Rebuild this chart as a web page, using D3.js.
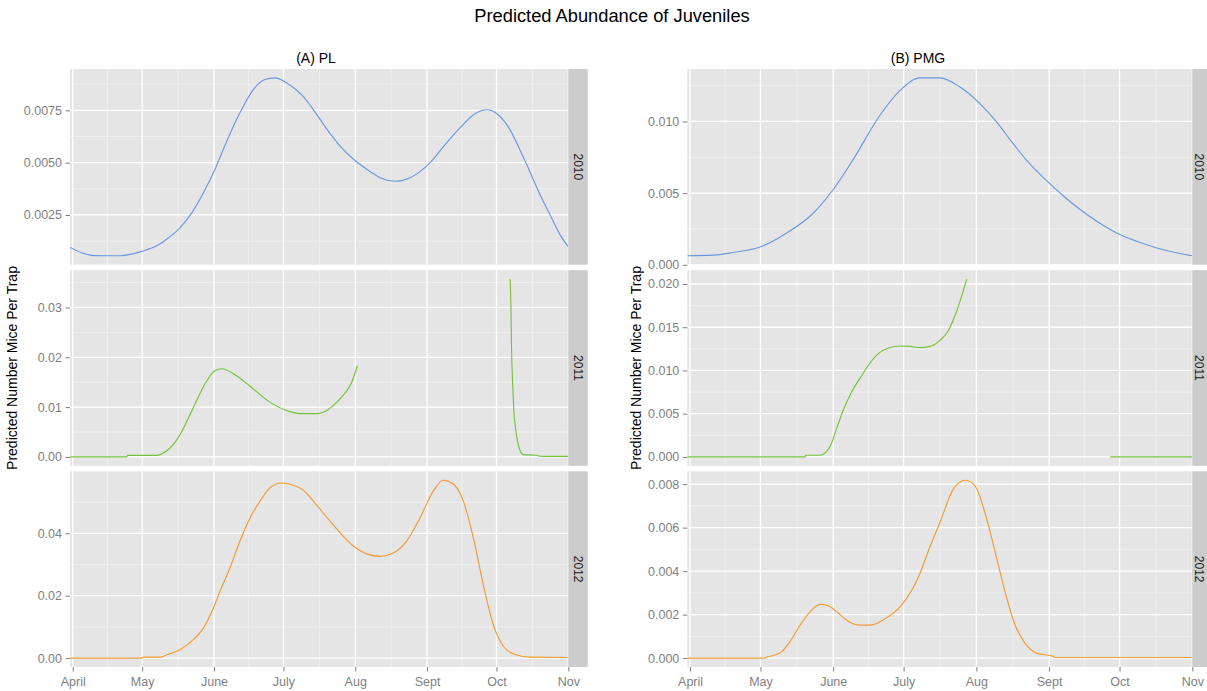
<!DOCTYPE html>
<html>
<head>
<meta charset="utf-8">
<script src="https://cdn.jsdelivr.net/npm/d3@7"></script>
<style>
  body { margin: 0; background: #fff; }
  text { font-family: "Liberation Sans", Arial, Helvetica, sans-serif; }
</style>
</head>
<body>
<svg id="chart" width="1207" height="691"></svg>
<script>
// ---- Data -------------------------------------------------------------
// Month breaks on the season axis
const monthLabels = ["April", "May", "June", "July", "Aug", "Sept", "Oct", "Nov"];
const monthStarts = ["2011-04-01", "2011-05-01", "2011-06-01", "2011-07-01",
                     "2011-08-01", "2011-09-01", "2011-10-01", "2011-11-01"];
const years = ["2010", "2011", "2012"];
const speciesTitles = ["(A) PL", "(B) PMG"];
const yearColors = ["#6a98e0", "#74c33c", "#f29c33"];

// Curves: days after 1 April and predicted mice per trap
const pl2010Days   = [-1.15, 5.3, 8.9, 20.4, 29.8, 36.3, 41.3, 46.3, 51.4, 56.4, 61.4, 66.5, 72.2, 78, 83, 87.3, 92.4, 99.6, 106, 111.1, 115.4, 121.9, 128.4, 132.7, 139.2, 145.7, 150, 154.3, 160.8, 167.3, 173.7, 178.9, 183.2, 188.8, 193.1, 197.4, 201.8, 206.1, 210.4, 214];
const pl2010Values = [0.00095, 0.00064, 0.00056, 0.00055, 0.00076, 0.00103, 0.0014, 0.00188, 0.0026, 0.00355, 0.00467, 0.00602, 0.00738, 0.00849, 0.00897, 0.00905, 0.00881, 0.00815, 0.0072, 0.0064, 0.0058, 0.0051, 0.00458, 0.00428, 0.00411, 0.00428, 0.00457, 0.0050, 0.00586, 0.00667, 0.00734, 0.00753, 0.00734, 0.00658, 0.00562, 0.00457, 0.00347, 0.00251, 0.00156, 0.00098];

const pl2011DaysA   = [-1.15, 23.3, 23.7, 36, 40.6, 43.4, 47.1, 50.6, 54.2, 57.9, 61.4, 64.3, 70.1, 75.8, 84.5, 93.1, 98.1, 106, 112.5, 116.8, 120.5, 122.9];
const pl2011ValuesA = [0, 0, 0.0003, 0.0003, 0.00125, 0.00245, 0.0051, 0.0084, 0.012, 0.0153, 0.0173, 0.0177, 0.0165, 0.0145, 0.0112, 0.0092, 0.0087, 0.0087, 0.0103, 0.0124, 0.015, 0.0183];
const pl2011DaysB   = [188.9, 189.2, 189.5, 190, 190.5, 191.4, 192.6, 194.6, 200.3, 201.8, 214];
const pl2011ValuesB = [0.0357, 0.0309, 0.0216, 0.0143, 0.0091, 0.0051, 0.0021, 0.00046, 0.00034, 0.00014, 0.0001];

const pl2012Days   = [-1.15, 29.9, 30.3, 38, 40.6, 46.3, 52.1, 56.4, 60.7, 63.6, 67.9, 72.2, 76.6, 80.9, 85.2, 90.2, 95.3, 99.3, 103.9, 111.1, 121.2, 126.9, 132.7, 138.4, 144.2, 150, 155.7, 160, 164.3, 168.7, 173, 177.3, 181.6, 186, 190.3, 197.5, 214];
const pl2012Values = [0, 0, 0.0003, 0.0003, 0.00106, 0.0027, 0.0059, 0.0096, 0.016, 0.0214, 0.0289, 0.0375, 0.045, 0.0503, 0.0546, 0.0561, 0.0554, 0.054, 0.0503, 0.0439, 0.0359, 0.0334, 0.0326, 0.0337, 0.0375, 0.045, 0.0535, 0.0570, 0.0558, 0.0503, 0.0385, 0.0235, 0.0107, 0.0038, 0.0013, 0.0003, 0.0002];

const pmg2010Days   = [-1.15, 9.9, 18.4, 29.8, 41.2, 51.9, 61.1, 69.6, 81, 89.5, 98, 106.5, 115, 123.6, 130.7, 137.8, 144.9, 152, 159.1, 166.2, 173.3, 181.8, 190.3, 198.9, 214];
const pmg2010Values = [0.00063, 0.00067, 0.00086, 0.00124, 0.00222, 0.00351, 0.00527, 0.00737, 0.01045, 0.01217, 0.01304, 0.01304, 0.0124, 0.01123, 0.00995, 0.00842, 0.00702, 0.00585, 0.0048, 0.00386, 0.00304, 0.00222, 0.00164, 0.00117, 0.00063];

const pmg2011DaysA   = [-1.15, 49, 49.2, 55.4, 57.5, 59.7, 62.5, 65.3, 68.9, 72.4, 76, 80.2, 84.5, 89.5, 93.7, 98, 102.3, 106.5, 110.1, 112.9, 115.8, 117.9];
const pmg2011ValuesA = [0, 0, 0.0002, 0.0002, 0.00046, 0.00123, 0.00333, 0.00543, 0.00755, 0.00908, 0.0106, 0.01195, 0.0126, 0.01283, 0.01279, 0.01264, 0.01279, 0.01348, 0.01463, 0.01635, 0.01865, 0.02057];
const pmg2011DaysB   = [179, 214];
const pmg2011ValuesB = [0, 0];

const pmg2012Days   = [-1.15, 32, 32.2, 35.5, 39.1, 42.6, 46.9, 51.1, 55.4, 58.9, 62.5, 67.4, 72.4, 76.7, 83.8, 89.5, 94.5, 98, 100.8, 106.5, 112.2, 117.2, 121.4, 126.4, 130.7, 135, 138.5, 142.7, 147.7, 154.8, 155.5, 214];
const pmg2012Values = [0, 0, 0.00004, 0.00012, 0.0003, 0.00076, 0.00152, 0.00213, 0.00247, 0.00241, 0.00213, 0.0017, 0.00152, 0.00152, 0.00186, 0.00236, 0.00312, 0.0039, 0.00472, 0.00625, 0.00777, 0.00818, 0.00792, 0.0064, 0.00457, 0.00274, 0.00152, 0.00069, 0.00023, 0.00008, 0.00003, 0.00003];

// Y axis breaks and their labels for each panel
const pl2010Ticks  = [0.0025, 0.005, 0.0075];
const pl2010Labels = ["0.0025", "0.0050", "0.0075"];
const pl2011Ticks  = [0, 0.01, 0.02, 0.03];
const pl2011Labels = ["0.00", "0.01", "0.02", "0.03"];
const pl2012Ticks  = [0, 0.02, 0.04];
const pl2012Labels = ["0.00", "0.02", "0.04"];
const pmg2010Ticks  = [0, 0.005, 0.01];
const pmg2010Labels = ["0.000", "0.005", "0.010"];
const pmg2011Ticks  = [0, 0.005, 0.01, 0.015, 0.02];
const pmg2011Labels = ["0.000", "0.005", "0.010", "0.015", "0.020"];
const pmg2012Ticks  = [0, 0.002, 0.004, 0.006, 0.008];
const pmg2012Labels = ["0.000", "0.002", "0.004", "0.006", "0.008"];

// ---- Assembly -----------------------------------------------------------
const seg = (days, values) => days.map((d, i) => ({ day: d, value: values[i] }));

const plots = [
  {
    title: speciesTitles[0], x0: 70, x1: 568.3, titleX: 316, yTitleX: 17,
    rows: [
      { segments: [seg(pl2010Days, pl2010Values)], ticks: pl2010Ticks, labels: pl2010Labels },
      { segments: [seg(pl2011DaysA, pl2011ValuesA), seg(pl2011DaysB, pl2011ValuesB)], ticks: pl2011Ticks, labels: pl2011Labels },
      { segments: [seg(pl2012Days, pl2012Values)], ticks: pl2012Ticks, labels: pl2012Labels }
    ]
  },
  {
    title: speciesTitles[1], x0: 687.3, x1: 1192.3, titleX: 918, yTitleX: 641,
    rows: [
      { segments: [seg(pmg2010Days, pmg2010Values)], ticks: pmg2010Ticks, labels: pmg2010Labels },
      { segments: [seg(pmg2011DaysA, pmg2011ValuesA), seg(pmg2011DaysB, pmg2011ValuesB)], ticks: pmg2011Ticks, labels: pmg2011Labels },
      { segments: [seg(pmg2012Days, pmg2012Values)], ticks: pmg2012Ticks, labels: pmg2012Labels }
    ]
  }
];

// ---- Layout -------------------------------------------------------------
const W = 1207, H = 691;
const panelTop = 69, panelBottom = 667, rowGap = 5.5;
const rowH = (panelBottom - panelTop - 2 * rowGap) / 3;
const stripW = 19.4;
const tickColor = "#7f7f7f";
const DAY = 864e5;
const april1 = Date.UTC(2011, 3, 1);
const toDate = d => new Date(april1 + d * DAY);
const monthDates = monthStarts.map(s => new Date(s + "T00:00:00Z"));
const xStart = toDate(-1.17), xEnd = monthDates[monthDates.length - 1];

const svg = d3.select("#chart");
svg.append("rect").attr("width", W).attr("height", H).attr("fill", "#fff");

svg.append("text")
  .attr("x", 612).attr("y", 22)
  .attr("text-anchor", "middle")
  .attr("font-size", 18.3).attr("fill", "#000")
  .text("Predicted Abundance of Juveniles");

plots.forEach((p, pi) => {
  const x = d3.scaleUtc().domain([xStart, xEnd]).range([p.x0, p.x1]);
  const minorX = d3.pairs(monthDates).map(([a, b]) => new Date((+a + +b) / 2));
  // strip label sits in the visible part of the strip
  const stripRight = Math.min(p.x1 + stripW, W);
  const stripLabelX = Math.min(p.x1 + stripW / 2, (p.x1 + stripRight) / 2);

  svg.append("text")
    .attr("x", p.titleX).attr("y", 63)
    .attr("text-anchor", "middle")
    .attr("font-size", 14).attr("fill", "#000")
    .text(p.title);

  svg.append("text")
    .attr("transform", `translate(${p.yTitleX},${(panelTop + panelBottom) / 2}) rotate(-90)`)
    .attr("text-anchor", "middle")
    .attr("font-size", 14).attr("fill", "#000")
    .text("Predicted Number Mice Per Trap");

  p.rows.forEach((row, ri) => {
    const y0 = panelTop + ri * (rowH + rowGap), y1 = y0 + rowH;
    const all = row.segments.flat().map(d => d.value);
    const lo = d3.min(all), hi = d3.max(all), pad = (hi - lo) * 0.05;
    const y = d3.scaleLinear().domain([lo - pad, hi + pad]).range([y1, y0]);

    const step = row.ticks[1] - row.ticks[0];
    const minorY = d3.range(row.ticks.length + 1)
      .map(i => row.ticks[0] - step / 2 + i * step)
      .filter(v => v >= y.domain()[0] && v <= y.domain()[1]);

    const g = svg.append("g");
    g.append("rect")
      .attr("x", p.x0).attr("y", y0)
      .attr("width", p.x1 - p.x0).attr("height", rowH)
      .attr("fill", "#e5e5e5");

    // grid
    g.selectAll(".minor-y").data(minorY).join("line")
      .attr("x1", p.x0).attr("x2", p.x1)
      .attr("y1", d => y(d)).attr("y2", d => y(d))
      .attr("stroke", "#f3f3f3").attr("stroke-width", 0.8);
    g.selectAll(".minor-x").data(minorX).join("line")
      .attr("x1", d => x(d)).attr("x2", d => x(d))
      .attr("y1", y0).attr("y2", y1)
      .attr("stroke", "#f3f3f3").attr("stroke-width", 0.8);
    g.selectAll(".major-y").data(row.ticks).join("line")
      .attr("x1", p.x0).attr("x2", p.x1)
      .attr("y1", d => y(d)).attr("y2", d => y(d))
      .attr("stroke", "#fff").attr("stroke-width", 1.3);
    g.selectAll(".major-x").data(monthDates).join("line")
      .attr("x1", d => x(d)).attr("x2", d => x(d))
      .attr("y1", y0).attr("y2", y1)
      .attr("stroke", "#fff").attr("stroke-width", 1.3);

    // curve
    const clipId = `clip-${pi}-${ri}`;
    svg.append("clipPath").attr("id", clipId)
      .append("rect").attr("x", p.x0).attr("y", y0)
      .attr("width", p.x1 - p.x0).attr("height", rowH);
    const line = d3.line()
      .x(d => x(toDate(d.day)))
      .y(d => y(d.value))
      .curve(d3.curveMonotoneX);
    g.append("g").attr("clip-path", `url(#${clipId})`)
      .selectAll("path").data(row.segments).join("path")
      .attr("d", line)
      .attr("fill", "none")
      .attr("stroke", yearColors[ri])
      .attr("stroke-width", 1.15);

    // y axis
    const yAxis = g.append("g")
      .attr("transform", `translate(${p.x0},0)`)
      .call(d3.axisLeft(y).tickValues(row.ticks)
        .tickFormat((d, i) => row.labels[i]).tickSize(4.5).tickPadding(3.5));
    yAxis.select(".domain").remove();
    yAxis.selectAll("line").attr("stroke", tickColor);
    yAxis.selectAll("text").attr("fill", tickColor).attr("font-size", 12.5)
      .attr("font-family", null);

    // strip
    g.append("rect")
      .attr("x", p.x1).attr("y", y0)
      .attr("width", stripRight - p.x1).attr("height", rowH)
      .attr("fill", "#cccccc");
    g.append("text")
      .attr("transform", `translate(${stripLabelX},${(y0 + y1) / 2}) rotate(90)`)
      .attr("text-anchor", "middle").attr("dy", "0.35em")
      .attr("font-size", 12).attr("fill", "#1a1a1a")
      .text(years[ri]);

    // x axis below the last row
    if (ri === p.rows.length - 1) {
      const xAxis = g.append("g")
        .attr("transform", `translate(0,${y1})`)
        .call(d3.axisBottom(x).tickValues(monthDates)
          .tickFormat((d, i) => monthLabels[i]).tickSize(4.5).tickPadding(6));
      xAxis.select(".domain").remove();
      xAxis.selectAll("line").attr("stroke", tickColor);
      xAxis.selectAll("text").attr("fill", tickColor).attr("font-size", 12.5)
        .attr("font-family", null);
    }
  });
});
</script>
</body>
</html>
